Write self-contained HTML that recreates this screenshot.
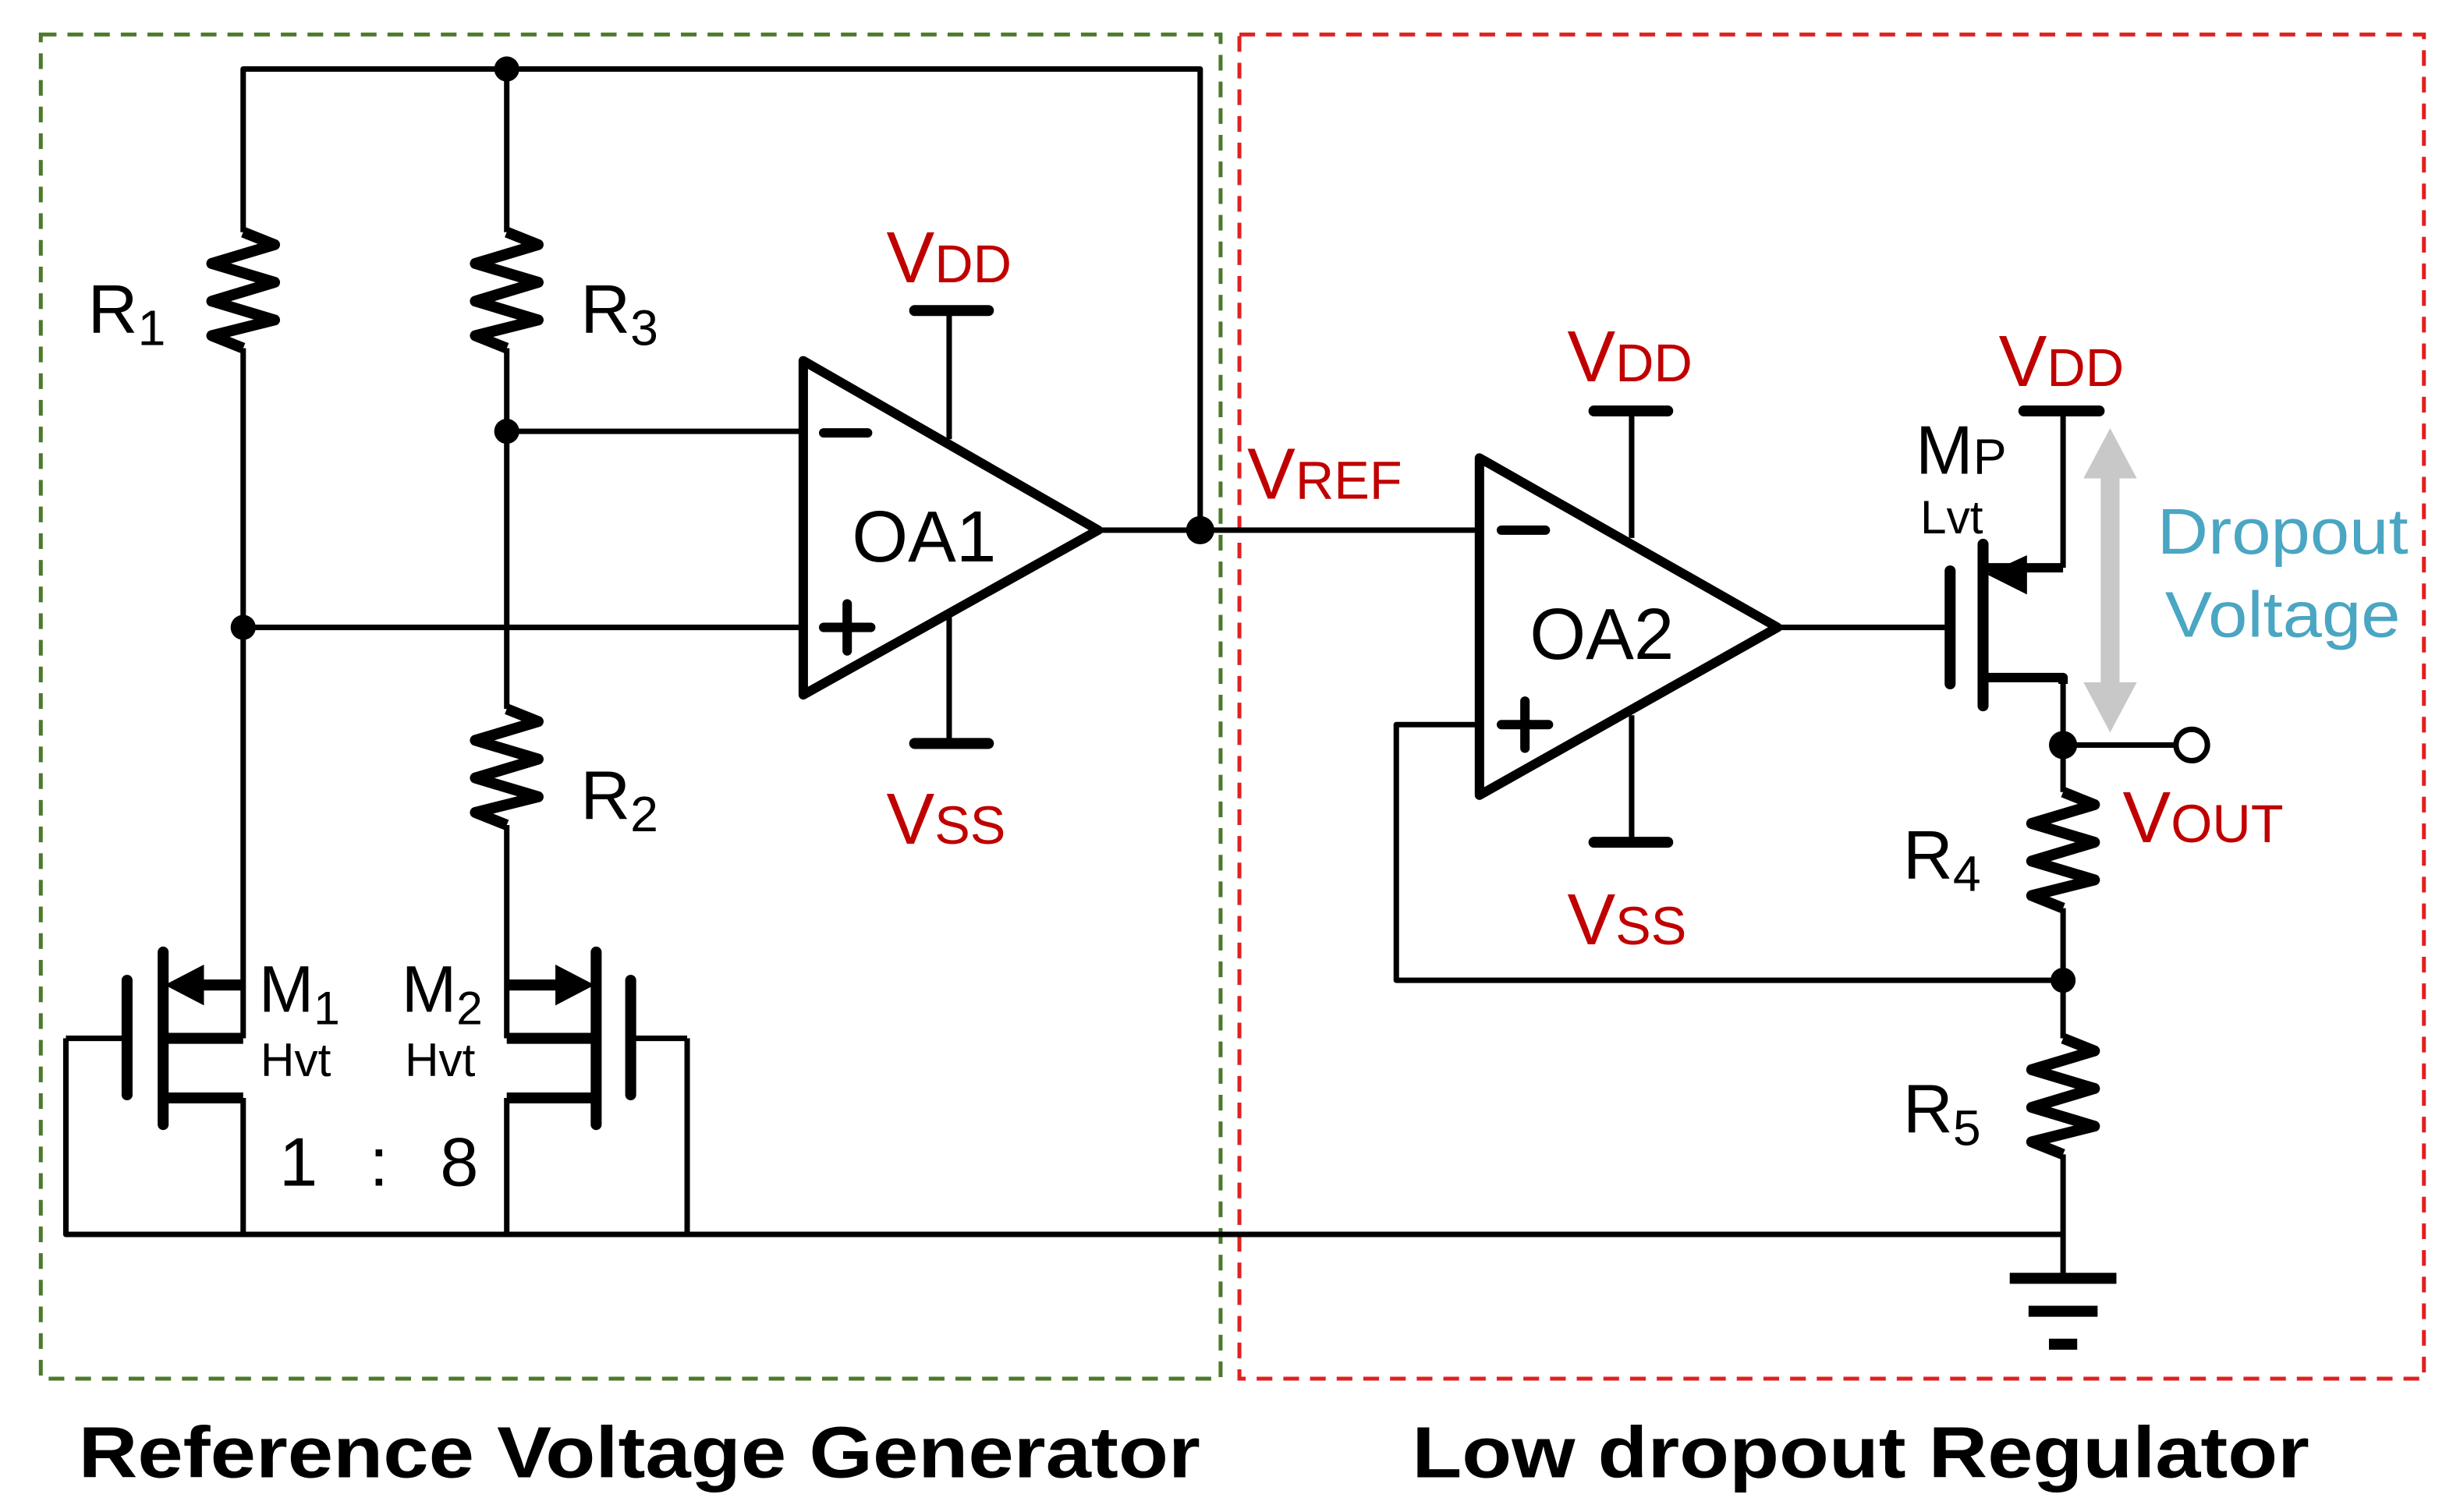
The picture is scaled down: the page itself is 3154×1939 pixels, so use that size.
<!DOCTYPE html>
<html><head><meta charset="utf-8"><style>
html,body{margin:0;padding:0;background:#fff;}
svg{display:block;}
text{font-family:"Liberation Sans",sans-serif;}
</style></head><body>
<svg width="3154" height="1939" viewBox="0 0 1568 964" preserveAspectRatio="none" xmlns="http://www.w3.org/2000/svg">
<rect x="0" y="0" width="1568" height="964" fill="#fff"/>
<rect x="26" y="22" width="752" height="857" fill="none" stroke="#4a7a2a" stroke-width="2.5" stroke-dasharray="10,7"/>
<rect x="790" y="22" width="755" height="857" fill="none" stroke="#e02020" stroke-width="2.5" stroke-dasharray="10,7"/>

<g stroke="#000" stroke-width="3.5" fill="none" stroke-linejoin="round">
<polyline points="155,148 155,44 765,44 765,338"/>
<line x1="323" y1="44" x2="323" y2="148"/>
<polyline stroke-width="7" points="155,148 175,156 135,168 175,180 135,192 175,204 135,214 155,222"/>
<polyline stroke-width="7" points="323,148 343,156 303,168 343,180 303,192 343,204 303,214 323,222"/>
<polyline stroke-width="7" points="323,452 343,460 303,472 343,484 303,496 343,508 303,518 323,526"/>
<polyline stroke-width="7" points="1315,505 1335,513 1295,525 1335,537 1295,549 1335,561 1295,571 1315,579"/>
<polyline stroke-width="7" points="1315,662 1335,670 1295,682 1335,694 1295,706 1335,718 1295,728 1315,736"/>
<line x1="155" y1="222" x2="155" y2="662"/>
<line x1="323" y1="222" x2="323" y2="452"/>
<line x1="323" y1="526" x2="323" y2="662"/>
<line x1="323" y1="275" x2="512" y2="275"/>
<line x1="155" y1="400" x2="512" y2="400"/>
<polygon stroke-width="6" points="512,230 512,443 700,338"/>
<line x1="605" y1="198" x2="605" y2="280"/>
<line x1="605" y1="392" x2="605" y2="474"/>
<line x1="700" y1="338" x2="943" y2="338"/>
<polygon stroke-width="6" points="943,292 943,507 1133,400"/>
<line x1="1040" y1="262" x2="1040" y2="343"/>
<line x1="1040" y1="456" x2="1040" y2="537"/>
<polyline points="943,462 890,462 890,625 1315,625"/>
<line x1="1133" y1="400" x2="1243" y2="400"/>
<polyline points="1315,262 1315,362"/>
<polyline stroke-width="6" points="1263,362 1315,362"/>
<polyline stroke-width="6" points="1263,432 1315,432 1315,436"/>
<polyline points="1315,432 1315,505"/>
<line x1="1315" y1="475" x2="1388" y2="475"/>
<line x1="1315" y1="579" x2="1315" y2="662"/>
<line x1="1315" y1="736" x2="1315" y2="815"/>
<polyline points="42,662 42,787 1315,787"/>
<line x1="438" y1="662" x2="438" y2="787"/>
<line x1="155" y1="700" x2="155" y2="787"/>
<line x1="323" y1="700" x2="323" y2="787"/>
<line x1="42" y1="662" x2="80" y2="662"/>
<line x1="402" y1="662" x2="438" y2="662"/>
</g>
<g stroke="#000" stroke-width="7" stroke-linecap="round" fill="none">
<line x1="583" y1="198" x2="630" y2="198"/>
<line x1="583" y1="474" x2="630" y2="474"/>
<line x1="1016" y1="262" x2="1063" y2="262"/>
<line x1="1016" y1="537" x2="1063" y2="537"/>
<line x1="1290" y1="262" x2="1338" y2="262"/>
<line x1="1243" y1="364" x2="1243" y2="436"/>
<line x1="1264" y1="347" x2="1264" y2="450"/>
<line x1="81" y1="625" x2="81" y2="698"/>
<line x1="104" y1="607" x2="104" y2="717"/>
<line x1="104" y1="662" x2="155" y2="662" stroke-linecap="butt"/>
<line x1="104" y1="700" x2="155" y2="700" stroke-linecap="butt"/>
<line x1="120" y1="628" x2="155" y2="628" stroke-linecap="butt"/>
<line x1="402" y1="625" x2="402" y2="698"/>
<line x1="380" y1="607" x2="380" y2="717"/>
<line x1="323" y1="662" x2="380" y2="662" stroke-linecap="butt"/>
<line x1="323" y1="700" x2="380" y2="700" stroke-linecap="butt"/>
<line x1="323" y1="628" x2="360" y2="628" stroke-linecap="butt"/>
<line x1="1281" y1="815" x2="1349" y2="815" stroke-linecap="butt"/>
<line x1="1293" y1="836" x2="1337" y2="836" stroke-linecap="butt"/>
<line x1="1306" y1="857" x2="1324" y2="857" stroke-linecap="butt"/>
<line x1="525" y1="276" x2="553" y2="276" stroke-width="6"/>
<line x1="525" y1="400" x2="555" y2="400" stroke-width="6"/>
<line x1="540" y1="385" x2="540" y2="415" stroke-width="6"/>
<line x1="957" y1="338" x2="985" y2="338" stroke-width="6"/>
<line x1="957" y1="462" x2="987" y2="462" stroke-width="6"/>
<line x1="972" y1="447" x2="972" y2="477" stroke-width="6"/>
</g>
<polygon points="105,628 130,615 130,641" fill="#000"/>
<polygon points="379,628 354,615 354,641" fill="#000"/>
<polygon points="1266,366 1292,354 1292,379" fill="#000"/>
<g fill="#000">
<circle cx="323" cy="44" r="8"/>
<circle cx="323" cy="275" r="8"/>
<circle cx="155" cy="400" r="8"/>
<circle cx="765" cy="338" r="9"/>
<circle cx="1315" cy="475" r="9"/>
<circle cx="1315" cy="625" r="8"/>
</g>
<circle cx="1397" cy="475" r="10" fill="#fff" stroke="#000" stroke-width="3.5"/>
<g fill="#c8c8c8">
<rect x="1339" y="300" width="12" height="140"/>
<polygon points="1345,273 1328,305 1362,305"/>
<polygon points="1345,467 1328,435 1362,435"/>
</g>
<g font-size="44" fill="#000">
<text x="56" y="212">R<tspan font-size="32" dy="8">1</tspan></text>
<text x="370" y="212">R<tspan font-size="32" dy="8">3</tspan></text>
<text x="370" y="522">R<tspan font-size="32" dy="8">2</tspan></text>
<text x="1213" y="560">R<tspan font-size="32" dy="8">4</tspan></text>
<text x="1213" y="722">R<tspan font-size="32" dy="8">5</tspan></text>
<text x="543" y="358" font-size="46">OA1</text>
<text x="975" y="420" font-size="46">OA2</text>
<text x="165" y="645" font-size="42">M<tspan font-size="30" dy="8">1</tspan></text>
<text x="256" y="645" font-size="42">M<tspan font-size="30" dy="8">2</tspan></text>
<text x="166" y="686" font-size="30">Hvt</text>
<text x="258" y="686" font-size="30">Hvt</text>
<text x="178" y="756" font-size="44" textLength="127" lengthAdjust="spacing">1 : 8</text>
<text x="1221" y="302" font-size="44">M<tspan font-size="32">P</tspan></text>
<text x="1224" y="340" font-size="30">Lvt</text>
</g>
<g fill="#c00000" font-size="46">
<text x="565" y="180">V<tspan font-size="34">DD</tspan></text>
<text x="565" y="538">V<tspan font-size="34">SS</tspan></text>
<text x="999" y="243">V<tspan font-size="34">DD</tspan></text>
<text x="999" y="602">V<tspan font-size="34">SS</tspan></text>
<text x="1274" y="246">V<tspan font-size="34">DD</tspan></text>
<text x="795" y="318">V<tspan font-size="34">REF</tspan></text>
<text x="1353" y="537">V<tspan font-size="34">OUT</tspan></text>
</g>
<g fill="#4aa6c2" font-size="41">
<text x="1375" y="353" textLength="160" lengthAdjust="spacingAndGlyphs">Dropout</text>
<text x="1380" y="406" textLength="150" lengthAdjust="spacingAndGlyphs">Voltage</text>
</g>
<g font-size="46" font-weight="bold" fill="#000">
<text x="50" y="942" textLength="715" lengthAdjust="spacingAndGlyphs">Reference Voltage Generator</text>
<text x="900" y="942" textLength="572" lengthAdjust="spacingAndGlyphs">Low dropout Regulator</text>
</g>
</svg>
</body></html>
